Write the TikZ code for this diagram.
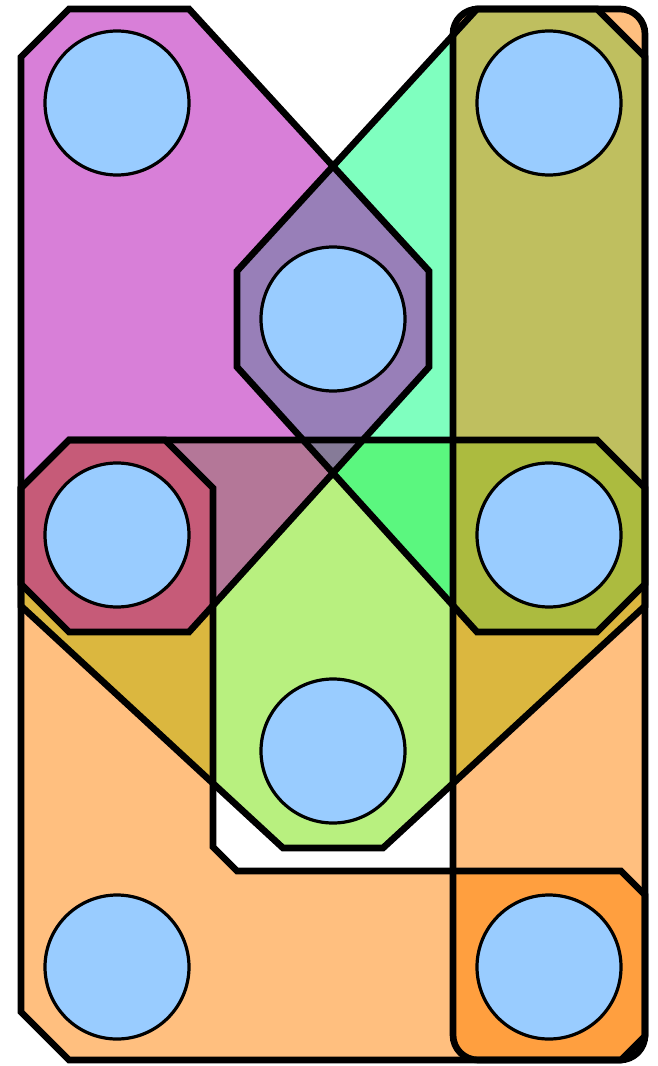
\documentclass[tikz,border=0pt]{standalone}
\definecolor{hlime}{RGB}{113,225,0}
\definecolor{hmint}{RGB}{0,255,128}
\definecolor{horange}{RGB}{255,128,0}
\definecolor{hmagenta}{RGB}{178,0,178}
\definecolor{vfill}{RGB}{153,204,255}
\newcommand{\hgLime}{(69,440) -- (597,440) -- (645,488) -- (645,606) -- (383,848) -- (283,848) -- (21,606) -- (21,488) -- cycle}
\newcommand{\hgMint}{(477,9) -- (597,9) -- (645,57) -- (645,584) -- (597,632) -- (477,632) -- (237,367) -- (237,271) -- cycle}
\newcommand{\hgLow}{(69,440) -- (165,440) -- (213,488) -- (213,847) -- (237,871) -- (621,871) -- (645,895) -- (645,1036) -- (621,1060) -- (69,1060) -- (21,1012) -- (21,488) -- cycle}
\newcommand{\hgRight}{[rounded corners=18.75pt] (453,9) rectangle (645,1060)}
\newcommand{\hgMag}{(21,57) -- (69,9) -- (189,9) -- (429,271) -- (429,367) -- (189,632) -- (69,632) -- (21,584) -- cycle}
\begin{document}
\begin{tikzpicture}[x=0.75pt,y=-0.75pt,
  edgefill/.style={fill opacity=0.5},
  edgeline/.style={draw=black,line width=5pt,line join=miter},
  vertex/.style={circle,draw=black,line width=2.4pt,fill=vfill,minimum size=108pt,inner sep=0pt}]
\useasboundingbox (0,0) rectangle (657,1066);
% fills
\fill[hlime,edgefill] \hgLime;
\fill[hmint,edgefill] \hgMint;
\fill[horange,edgefill] \hgLow;
\fill[horange,edgefill] \hgRight;
\fill[hmagenta,edgefill] \hgMag;
% outlines
\draw[edgeline] \hgLime;
\draw[edgeline] \hgMint;
\draw[edgeline] \hgLow;
\draw[edgeline] \hgRight;
\draw[edgeline] \hgMag;
% vertices
\node[vertex] (v1) at (117,103) {};
\node[vertex] (v2) at (549,103) {};
\node[vertex] (v3) at (333,319) {};
\node[vertex] (v4) at (117,535) {};
\node[vertex] (v5) at (549,535) {};
\node[vertex] (v6) at (333,751) {};
\node[vertex] (v7) at (117,967) {};
\node[vertex] (v8) at (549,967) {};
\end{tikzpicture}
\end{document}
